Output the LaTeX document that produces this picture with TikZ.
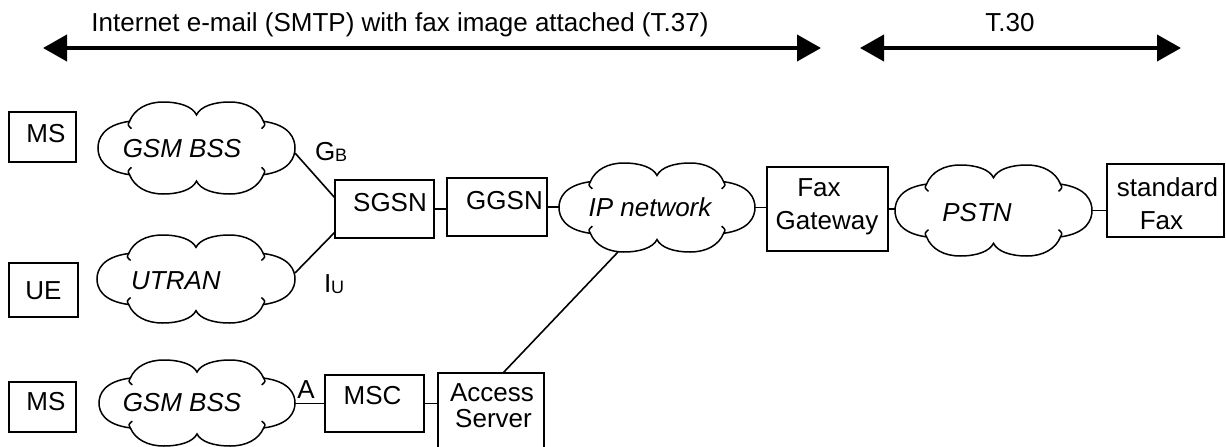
\documentclass[tikz,border=0pt]{standalone}
\usepackage{fontspec}
\setmainfont{Liberation Sans}
\usetikzlibrary{arrows.meta}
\newcommand\mycloud[4]{%
\begin{scope}[shift={(#1,#2)},xscale=#3,yscale=#4]
\draw[cloudline] (-0.68,0.58) .. controls (-0.95,0.5) and (-1,0.2) .. (-1,0)
 .. controls (-1,-0.2) and (-0.95,-0.5) .. (-0.68,-0.58)
 .. controls (-0.63,-0.85) and (-0.5,-1) .. (-0.34,-1)
 .. controls (-0.17,-1) and (-0.04,-0.9) .. (0,-0.72)
 .. controls (0.04,-0.9) and (0.17,-1) .. (0.34,-1)
 .. controls (0.5,-1) and (0.63,-0.85) .. (0.68,-0.58)
 .. controls (0.95,-0.5) and (1,-0.2) .. (1,0)
 .. controls (1,0.2) and (0.95,0.5) .. (0.68,0.58)
 .. controls (0.63,0.85) and (0.5,1) .. (0.34,1)
 .. controls (0.17,1) and (0.04,0.9) .. (0,0.72)
 .. controls (-0.04,0.9) and (-0.17,1) .. (-0.34,1)
 .. controls (-0.5,1) and (-0.63,0.85) .. (-0.68,0.58) -- cycle;
\draw[cloudline] (-0.68,0.58) .. controls (-0.70,0.50) .. (-0.66,0.42);
\draw[cloudline] (0.68,0.58) .. controls (0.70,0.50) .. (0.66,0.42);
\draw[cloudline] (-0.68,-0.58) .. controls (-0.70,-0.50) .. (-0.66,-0.42);
\draw[cloudline] (0.68,-0.58) .. controls (0.70,-0.50) .. (0.66,-0.42);
\end{scope}}
\begin{document}
\begin{tikzpicture}[x=1pt,y=-1pt,
  every node/.style={inner sep=0pt,outer sep=0pt,font=\fontsize{26}{31}\selectfont},
  box/.style={draw,line width=1.6pt},
  cloudline/.style={line width=1.5pt},
  cloudarea/.style={inner sep=0pt},
  txt/.style={anchor=base},
  itxt/.style={anchor=base,font=\fontsize{26}{31}\selectfont\itshape},
  conn/.style={line width=1.6pt},
  bigarrow/.style={line width=4pt,{Triangle[length=24pt,width=26pt]}-{Triangle[length=24pt,width=26pt]}}]
\useasboundingbox (0,0) rectangle (1226,447);

% top arrows
\coordinate (a1) at (43,48);
\coordinate (a2) at (821,48);
\coordinate (b1) at (860,48);
\coordinate (b2) at (1181,48);
\draw[bigarrow] (a1) -- (a2);
\draw[bigarrow] (b1) -- (b2);
\node[txt] (t37) at (400,31) {Internet e-mail (SMTP) with fax image attached (T.37)};
\node[txt] (t30) at (1010,31) {T.30};

% terminal boxes
\node[box,minimum width=67pt,minimum height=50pt] (ms1) at (42.5,137) {};
\node[txt] (ms1t) at (46,142) {MS};
\node[box,minimum width=69pt,minimum height=54pt] (ue) at (43.5,290) {};
\node[txt] (uet) at (43.5,299) {UE};
\node[box,minimum width=67pt,minimum height=50pt] (ms2) at (42.5,407) {};
\node[txt] (ms2t) at (46,410) {MS};

% clouds
\mycloud{196.5}{148}{98.5}{46}
\node[cloudarea,minimum width=197pt,minimum height=92pt] (gsm1) at (196.5,148) {};
\node[itxt] (gsm1t) at (182,157) {GSM BSS};
\mycloud{196}{279}{99}{44}
\node[cloudarea,minimum width=198pt,minimum height=88pt] (utran) at (196,279) {};
\node[itxt] (utrant) at (176,289) {UTRAN};
\mycloud{197}{403}{98}{43}
\node[cloudarea,minimum width=196pt,minimum height=86pt] (gsm2) at (197,403) {};
\node[itxt] (gsm2t) at (182,411) {GSM BSS};
\mycloud{657}{207.5}{98}{44.5}
\node[cloudarea,minimum width=196pt,minimum height=89pt] (ip) at (657,207.5) {};
\node[itxt] (ipt) at (650,216) {IP network};
\mycloud{993.5}{210.5}{98.5}{45.5}
\node[cloudarea,minimum width=197pt,minimum height=91pt] (pstn) at (993.5,210.5) {};
\node[itxt] (pstnt) at (977,221) {PSTN};

% network boxes
\node[box,minimum width=99pt,minimum height=58pt] (sgsn) at (384.5,209) {};
\node[txt] (sgsnt) at (390,211) {SGSN};
\node[box,minimum width=100pt,minimum height=58pt] (ggsn) at (497,207) {};
\node[txt] (ggsnt) at (504.5,209) {GGSN};
\node[box,minimum width=121pt,minimum height=84pt] (fgw) at (827.5,209) {};
\node[txt] (fgwt1) at (819,196) {Fax};
\node[txt] (fgwt2) at (827,229) {Gateway};
\node[box,minimum width=117pt,minimum height=73pt] (sfax) at (1165.5,200.5) {};
\node[txt] (sfaxt1) at (1167.5,196) {standard};
\node[txt] (sfaxt2) at (1161.5,229) {Fax};
\node[box,minimum width=99pt,minimum height=57pt] (msc) at (374.5,403.5) {};
\node[txt] (msct) at (372.5,404) {MSC};
\node[box,minimum width=106pt,minimum height=80pt] (acc) at (491,413) {};
\node[txt] (acct1) at (492,401) {Access};
\node[txt] (acct2) at (493.5,427) {Server};

% interface labels
\node[anchor=base west] (gb) at (315,160) {G\raisebox{-1pt}{\fontsize{18}{18}\selectfont B}};
\node[anchor=base west] (iu) at (324,292) {I\raisebox{-1pt}{\fontsize{18}{18}\selectfont U}};
\node[txt] (alab) at (306,398) {A};

% connectors
\draw[conn] ([yshift=-5pt]gsm1.east) -- ([yshift=11pt]sgsn.west);
\draw[conn] ([yshift=6pt]utran.east) -- ([yshift=-23pt]sgsn.west);
\draw[conn] (sgsn.east) -- (sgsn.east -| ggsn.west);
\draw[conn] (ggsn.east) -- (ggsn.east -| ip.west);
\draw[conn] (ip.east) -- (ip.east -| fgw.west);
\draw[conn] (fgw.east) -- (fgw.east -| pstn.west);
\draw[conn] (pstn.east) -- (pstn.east -| sfax.west);
\draw[conn] (msc.west -| gsm2.east) -- (msc.west);
\draw[conn] (msc.east) -- (msc.east -| acc.west);
\draw[conn] ([xshift=12pt]acc.north) -- ([xshift=-39pt]ip.south);
\end{tikzpicture}
\end{document}
